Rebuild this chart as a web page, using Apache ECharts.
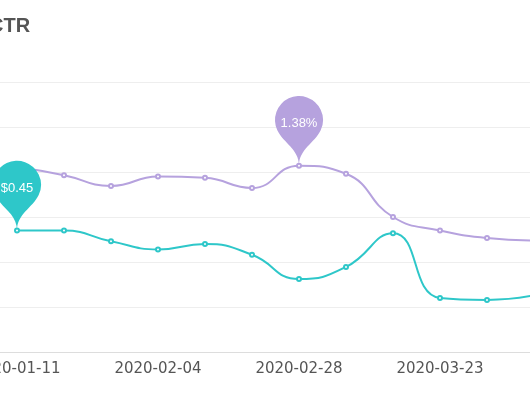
<!DOCTYPE html>
<html>
<head>
<meta charset="utf-8">
<style>html,body{margin:0;padding:0;background:#fff}#c{width:530px;height:396px}</style>
<script src="https://cdn.jsdelivr.net/npm/echarts@6/dist/echarts.min.js"></script>
</head>
<body>
<div id="c"></div>
<script>
const titleText = 'CTR';
const categories = ['2020-01-11','2020-01-19','2020-01-27','2020-02-04','2020-02-12','2020-02-20','2020-02-28','2020-03-07','2020-03-15','2020-03-23','2020-03-31','2020-04-08'];
const cpcValues = [0.45, 0.45, 0.41, 0.38, 0.40, 0.36, 0.27, 0.315, 0.44, 0.20, 0.193, 0.21];
const ctrValues = [1.37, 1.31, 1.23, 1.30, 1.29, 1.215, 1.38, 1.32, 1.00, 0.90, 0.845, 0.825];

const chart = echarts.init(document.getElementById('c'));
chart.setOption({
  animation: false,
  title: {
    text: titleText, left: -16, top: 11,
    textStyle: {fontSize: 20, fontWeight: 'bold', color: '#555', fontFamily: 'Liberation Sans'}
  },
  grid: {left: -6.5, right: -27.5, top: 82, bottom: 44, containLabel: false, outerBoundsMode: 'none'},
  xAxis: {
    type: 'category', data: categories, boundaryGap: true,
    axisLine: {lineStyle: {color: '#ddd'}},
    axisTick: {alignWithLabel: true, interval: 2, length: 5, lineStyle: {color: '#ddd'}},
    axisLabel: {interval: 2, color: '#555', fontSize: 15, fontFamily: 'DejaVu Sans', margin: 10}
  },
  yAxis: [
    {type: 'value', min: 0, max: 1, interval: 1/6,
     axisLabel: {show: false}, axisLine: {show: false}, axisTick: {show: false},
     splitLine: {lineStyle: {color: '#eee'}}},
    {type: 'value', min: 0, max: 2, interval: 1/3,
     axisLabel: {show: false}, axisLine: {show: false}, axisTick: {show: false},
     splitLine: {show: false}}
  ],
  series: [
    {name: 'CPC', type: 'line', smooth: true, yAxisIndex: 0, data: cpcValues,
     symbol: 'emptyCircle', symbolSize: 4,
     itemStyle: {color: '#2ec7c9'}, lineStyle: {width: 2, color: '#2ec7c9'},
     markPoint: {symbol: 'pin', symbolSize: [80, 80],
       data: [{type: 'max'}],
       itemStyle: {color: '#2ec7c9'},
       label: {formatter: p => '$' + p.value.toFixed(2), color: '#fff', fontSize: 13, fontFamily: 'Liberation Sans'}}},
    {name: 'CTR', type: 'line', smooth: true, yAxisIndex: 1, data: ctrValues,
     symbol: 'emptyCircle', symbolSize: 4,
     itemStyle: {color: '#b6a2de'}, lineStyle: {width: 2, color: '#b6a2de'},
     markPoint: {symbol: 'pin', symbolSize: [80, 80],
       data: [{type: 'max'}],
       itemStyle: {color: '#b6a2de'},
       label: {formatter: p => p.value.toFixed(2) + '%', color: '#fff', fontSize: 13, fontFamily: 'Liberation Sans'}}}
  ]
});
</script>
</body>
</html>
